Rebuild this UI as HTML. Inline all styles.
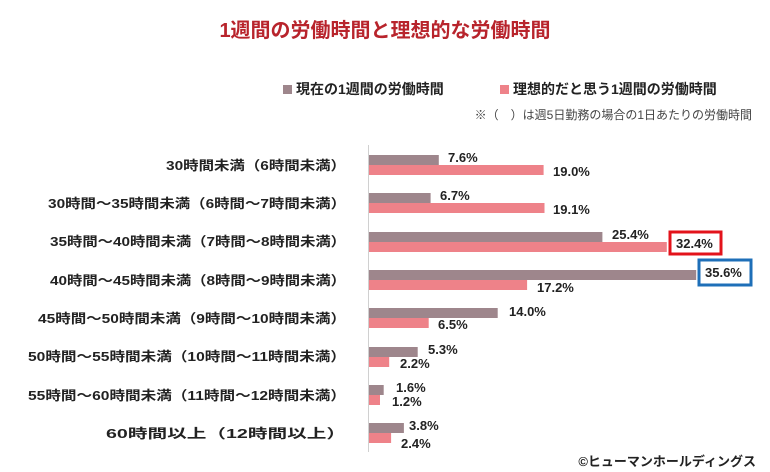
<!DOCTYPE html>
<html><head><meta charset="utf-8"><style>
html,body{margin:0;padding:0;background:#fff;}
svg{display:block;font-family:"Liberation Sans","Noto Sans CJK JP",sans-serif;}
</style></head><body>
<svg width="770" height="472" viewBox="0 0 770 472">
<text x="385" y="37" text-anchor="middle" font-size="20" font-weight="bold" fill="#b8242c">1週間の労働時間と理想的な労働時間</text>
<rect x="283" y="85" width="9" height="9" fill="#9e868c"/>
<text x="296" y="94" font-size="14" font-weight="bold" fill="#222">現在の1週間の労働時間</text>
<rect x="500" y="85" width="9" height="9" fill="#ee8289"/>
<text x="513" y="94" font-size="14" font-weight="bold" fill="#222">理想的だと思う1週間の労働時間</text>
<text x="752" y="119" text-anchor="end" font-size="12" fill="#444">※（　）は週5日勤務の場合の1日あたりの労働時間</text>
<line x1="368.5" y1="145" x2="368.5" y2="452" stroke="#d0d0d0" stroke-width="1"/>
<g font-size="13" font-weight="bold" fill="#222" text-anchor="end">
<text x="346" y="170" textLength="180" lengthAdjust="spacingAndGlyphs">30時間未満（6時間未満）</text>
<text x="346" y="208" textLength="298" lengthAdjust="spacingAndGlyphs">30時間～35時間未満（6時間～7時間未満）</text>
<text x="346" y="246" textLength="296" lengthAdjust="spacingAndGlyphs">35時間～40時間未満（7時間～8時間未満）</text>
<text x="346" y="285" textLength="296" lengthAdjust="spacingAndGlyphs">40時間～45時間未満（8時間～9時間未満）</text>
<text x="346" y="323" textLength="308" lengthAdjust="spacingAndGlyphs">45時間～50時間未満（9時間～10時間未満）</text>
<text x="346" y="361" textLength="318" lengthAdjust="spacingAndGlyphs">50時間～55時間未満（10時間～11時間未満）</text>
<text x="346" y="400" textLength="318" lengthAdjust="spacingAndGlyphs">55時間～60時間未満（11時間～12時間未満）</text>
<text x="346" y="438" textLength="240" lengthAdjust="spacingAndGlyphs">60時間以上（12時間以上）</text>
</g>
<g>
<rect x="369" y="155" width="69.8" height="10" fill="#9e868c"/><rect x="369" y="165" width="174.6" height="10" fill="#ee8289"/>
<rect x="369" y="193" width="61.6" height="10" fill="#9e868c"/><rect x="369" y="203" width="175.5" height="10" fill="#ee8289"/>
<rect x="369" y="232" width="233.4" height="10" fill="#9e868c"/><rect x="369" y="242" width="297.8" height="10" fill="#ee8289"/>
<rect x="369" y="270" width="327.2" height="10" fill="#9e868c"/><rect x="369" y="280" width="158.1" height="10" fill="#ee8289"/>
<rect x="369" y="308" width="128.7" height="10" fill="#9e868c"/><rect x="369" y="318" width="59.7" height="10" fill="#ee8289"/>
<rect x="369" y="347" width="48.7" height="10" fill="#9e868c"/><rect x="369" y="357" width="20.2" height="10" fill="#ee8289"/>
<rect x="369" y="385" width="14.7" height="10" fill="#9e868c"/><rect x="369" y="395" width="11" height="10" fill="#ee8289"/>
<rect x="369" y="423" width="34.9" height="10" fill="#9e868c"/><rect x="369" y="433" width="22.1" height="10" fill="#ee8289"/>
</g>
<g font-size="13" font-weight="bold" fill="#222">
<text x="448" y="162">7.6%</text><text x="553" y="176">19.0%</text>
<text x="440" y="200">6.7%</text><text x="553" y="214">19.1%</text>
<text x="612" y="239">25.4%</text>
<rect x="670" y="232" width="51" height="22" fill="#fff" stroke="#e3131b" stroke-width="3"/>
<text x="676" y="248">32.4%</text>
<rect x="699" y="260" width="52" height="25" fill="#fff" stroke="#1e6fb8" stroke-width="3"/>
<text x="705" y="277">35.6%</text><text x="537" y="292">17.2%</text>
<text x="509" y="316">14.0%</text><text x="438" y="329">6.5%</text>
<text x="428" y="354">5.3%</text><text x="400" y="368">2.2%</text>
<text x="396" y="392">1.6%</text><text x="392" y="406">1.2%</text>
<text x="409" y="430">3.8%</text><text x="401" y="448">2.4%</text>
</g>
<text x="756" y="466" text-anchor="end" font-size="13" font-weight="bold" fill="#222">©ヒューマンホールディングス</text>
</svg>
</body></html>
